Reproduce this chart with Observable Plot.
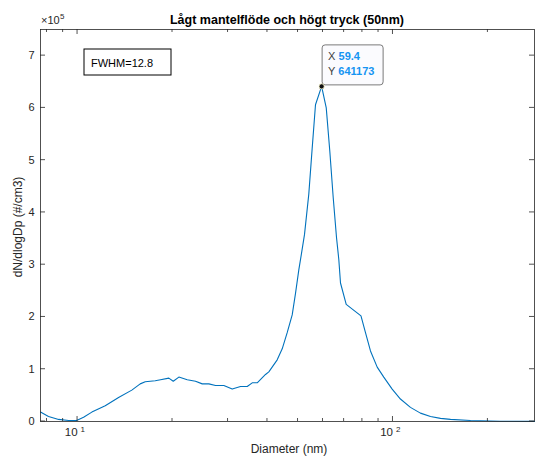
<!DOCTYPE html>
<html><head><meta charset="utf-8">
<script src="https://cdn.jsdelivr.net/npm/d3@7"></script>
<script src="https://cdn.jsdelivr.net/npm/@observablehq/plot@0.6"></script>
<style>body{margin:0;background:#fff} #chart svg{display:block}</style>
</head><body><div id="chart"></div>
<script>
// Particle size distribution
const diameter = [7.63, 8.09, 8.71, 9.37, 9.93, 10.45, 11.10, 12.24, 13.49, 14.86, 15.80, 16.39, 17.63, 18.33, 19.47, 20.11, 20.95, 22.27, 23.66, 24.85, 26.08, 27.38, 29.09, 30.93, 32.86, 34.51, 35.79, 37.12, 39.44, 40.40, 41.5, 42.95, 44.55, 46.20, 47.92, 49.09, 50.29, 51.3, 52.43, 54.09, 55.45, 56.80, 59.4, 61.44, 63.06, 64.65, 66.22, 67.34, 68.18, 71.08, 79.17, 81.82, 84.86, 89.12, 93.51, 99.42, 105.6, 113.6, 122.2, 131.5, 141.5, 152.2, 176.1, 219.1, 281];
const concentration = [18000, 9500, 4000, 2000, 2000, 8000, 18000, 30000, 46000, 60000, 72000, 76000, 78000, 80000, 83000, 77000, 85000, 80000, 77000, 72000, 72000, 69000, 69000, 62000, 67000, 67000, 74000, 74000, 90000, 95000, 105000, 118000, 139000, 170000, 204000, 245000, 290000, 322000, 358000, 435000, 523000, 606000, 641173, 600000, 517000, 428000, 352000, 310000, 265000, 224000, 202000, 170000, 135000, 104000, 85000, 62000, 43000, 27000, 16000, 9500, 6000, 4000, 2000, 500, 200];

const xDomain = [7.63, 281];
const yDomain = [0, 750000];
const xMajorTicks = [10, 100];
const xMinorTicks = [8, 9, 20, 30, 40, 50, 60, 70, 80, 90, 200];
const yTicks = [0, 100000, 200000, 300000, 400000, 500000, 600000, 700000];
const peak = [{x: 59.4, y: 641173}];
const peakLabels = ["59.4", "641173"];
const title = "Lågt mantelflöde och högt tryck (50nm)";
const xLabel = "Diameter (nm)";
const yLabel = "dN/dlogDp (#/cm3)";
const fwhmText = "FWHM=12.8";

const data = diameter.map((d, i) => ({d, c: concentration[i]}));

const W = 536, H = 462, mL = 40, mR = 2, mT = 29, mB = 41;
const font = "'Liberation Sans', Arial, Helvetica, sans-serif";
const axisColor = "#262626";

const plot = Plot.plot({
  width: W, height: H,
  marginLeft: mL, marginRight: mR, marginTop: mT, marginBottom: mB,
  style: {fontFamily: font, fontSize: "11px", color: axisColor, background: "#fff", overflow: "visible"},
  x: {type: "log", domain: xDomain, axis: null},
  y: {domain: yDomain, axis: null},
  marks: [
    Plot.line(data, {x: "d", y: "c", stroke: "#0072BD", strokeWidth: 1.1}),
    Plot.frame({stroke: axisColor, strokeWidth: 0.8}),
    Plot.axisY(yTicks, {anchor: "left", tickSize: 0, tickPadding: 6, tickFormat: d => String(d / 1e5), label: null, fontSize: 11, fill: axisColor}),
    Plot.text(xMajorTicks, {x: d => d, frameAnchor: "bottom", text: () => "10", textAnchor: "end", dx: 0, dy: 14.5, fontSize: 11.5, fill: axisColor}),
    Plot.text(xMajorTicks, {x: d => d, frameAnchor: "bottom", text: d => String(Math.round(Math.log10(d))), textAnchor: "start", dx: 3, dy: 10.5, fontSize: 8, fill: axisColor}),
    Plot.dot(peak, {x: "x", y: "y", r: 2.6, fill: "#111", stroke: "#fffbd0", strokeWidth: 0.8})
  ]
});
document.getElementById("chart").appendChild(plot);

const svg = d3.select(plot);
const xs = plot.scale("x"), ys = plot.scale("y");
const fTop = mT, fBottom = H - mB, fLeft = mL, fRight = W - mR;
const tg = svg.append("g").attr("stroke", axisColor).attr("stroke-width", 0.8).attr("fill", "none");
function seg(x1, y1, x2, y2) { tg.append("line").attr("x1", x1).attr("y1", y1).attr("x2", x2).attr("y2", y2); }
for (const t of xMajorTicks) { const x = xs.apply(t); seg(x, fBottom, x, fBottom - 5); seg(x, fTop, x, fTop + 5); }
for (const t of xMinorTicks) { const x = xs.apply(t); seg(x, fBottom, x, fBottom - 3); seg(x, fTop, x, fTop + 3); }
for (const t of yTicks) { const y = ys.apply(t); seg(fLeft, y, fLeft + 5, y); seg(fRight, y, fRight - 5, y); }

function txt(x, y, s, opts = {}) {
  const t = svg.append("text").attr("x", x).attr("y", y).text(s)
    .attr("font-family", font).attr("font-size", opts.size || 11)
    .attr("fill", opts.fill || axisColor)
    .attr("text-anchor", opts.anchor || "start");
  if (opts.weight) t.attr("font-weight", opts.weight);
  if (opts.rotate) t.attr("transform", `rotate(${opts.rotate},${x},${y})`);
  return t;
}

// title, exponent, axis labels
txt((fLeft + fRight) / 2, 23.5, title, {size: 12.5, weight: "bold", anchor: "middle", fill: "#000"});
txt(fLeft + 1, 24, "×10", {size: 11});
txt(fLeft + 20, 18.5, "5", {size: 8});
txt((fLeft + fRight) / 2 + 2, 453, xLabel, {size: 12, anchor: "middle"});
txt(22, (fTop + fBottom) / 2 + 2, yLabel, {size: 12, anchor: "middle", rotate: -90});

// FWHM annotation box
svg.append("rect").attr("x", fLeft + 44).attr("y", fTop + 20).attr("width", 87).attr("height", 26)
  .attr("fill", "#fff").attr("stroke", "#000").attr("stroke-width", 1);
txt(fLeft + 51, fTop + 38, fwhmText, {size: 11, fill: "#000"});

// data tip
const px = xs.apply(peak[0].x), py = ys.apply(peak[0].y);
svg.append("rect").attr("x", px + 1).attr("y", py - 41).attr("width", 61).attr("height", 40).attr("rx", 3)
  .attr("fill", "#fbfbfe").attr("stroke", "#7a7a7a").attr("stroke-width", 1);
const blue = "#1594f2";
const r1 = txt(px + 7, py - 25.5, "X ", {size: 11, fill: "#404040"});
r1.append("tspan").attr("font-weight", "bold").attr("fill", blue).text(peakLabels[0]);
const r2 = txt(px + 7, py - 10.5, "Y ", {size: 11, fill: "#404040"});
r2.append("tspan").attr("font-weight", "bold").attr("fill", blue).text(peakLabels[1]);
// keep the peak dot above the box edge
const dotG = svg.select("g[aria-label='dot']").node();
if (dotG) svg.node().appendChild(dotG);
</script>
</body></html>
